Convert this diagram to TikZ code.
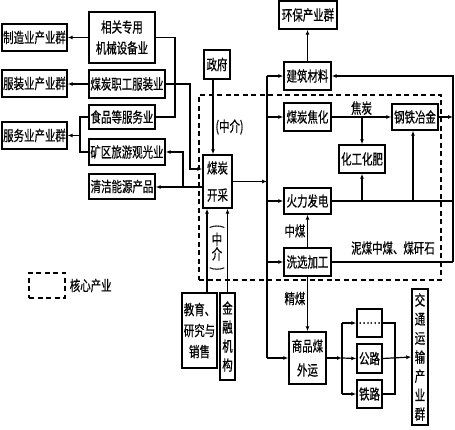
\documentclass[tikz,border=0pt]{standalone}
\usepackage{fontspec}
\usepackage{graphicx}
\setmainfont{Noto Sans CJK SC}[FakeStretch=0.72,FakeBold=0.6]
\usetikzlibrary{arrows.meta,calc}
\begin{document}
\begin{tikzpicture}[x=1pt,y=-1pt,
  font=\fontsize{14.5}{20}\selectfont,
  box/.style={draw, line width=1.4pt, inner sep=0pt, align=center},
  ar/.style={-{Latex[length=5pt,width=4pt]}},
  every path/.style={line width=1.2pt},
  core/.style={draw, dash pattern=on 5pt off 3.5pt, line width=1.4pt, inner sep=0pt},
  lbl/.style={inner sep=1.5pt}
]
\useasboundingbox (0,0) rectangle (455,430);

% dashed core area
\node[core, minimum width=242pt, minimum height=185pt] (core) at (320,187.5) {};
\node[core, minimum width=36pt, minimum height=25pt] (legend) at (47,285.5) {};
\node[lbl, anchor=west] (legendtxt) at ([xshift=2pt]legend.east) {核心产业};

% left column
\node[box, minimum width=65pt, minimum height=27pt] (mfg) at (34.5,37.5) {制造业产业群};
\node[box, minimum width=66pt, minimum height=51pt, font=\fontsize{14.5}{21}\selectfont] (mech) at (122,37.5) {相关专用\\机械设备业};
\node[box, minimum width=65pt, minimum height=27pt] (cloth) at (34.5,83.5) {服装业产业群};
\node[box, minimum width=76pt, minimum height=28pt] (uniform) at (127,84) {煤炭职工服装业};
\node[box, minimum width=66pt, minimum height=24pt] (food) at (122,117) {食品等服务业};
\node[box, minimum width=65pt, minimum height=27pt] (svc) at (34.5,135.5) {服务业产业群};
\node[box, minimum width=76pt, minimum height=26pt] (tour) at (127,152) {矿区旅游观光业};
\node[box, minimum width=66pt, minimum height=25pt] (clean) at (122,186.5) {清洁能源产品};

% centre
\node[box, minimum width=26pt, minimum height=29pt] (gov) at (217,64.5) {政府};
\node[box, minimum width=29pt, minimum height=53pt, font=\fontsize{14.5}{27}\selectfont] (mine) at (217.5,181.5) {煤炭\\开采};
\node[box, minimum width=35pt, minimum height=75pt, font=\fontsize{14.5}{21}\selectfont] (edu) at (199.5,330.5) {教育、\\研究与\\销售};
\node[box, minimum width=15pt, minimum height=87pt, font=\fontsize{14.5}{19}\selectfont] (fin) at (227.5,336.5) {金\\融\\机\\构};

% right part
\node[box, minimum width=58pt, minimum height=28pt] (env) at (308,15) {环保产业群};
\node[box, minimum width=47pt, minimum height=28pt] (build) at (307.5,76) {建筑材料};
\node[box, minimum width=47pt, minimum height=28pt] (coke) at (307.5,117) {煤炭焦化};
\node[box, minimum width=46pt, minimum height=28pt] (chem) at (362,159) {化工化肥};
\node[box, minimum width=46pt, minimum height=26pt] (steel) at (415,117) {钢铁冶金};
\node[box, minimum width=47pt, minimum height=26pt] (power) at (307.5,201) {火力发电};
\node[box, minimum width=47pt, minimum height=28pt] (wash) at (307.5,262) {洗选加工};
\node[box, minimum width=37pt, minimum height=52pt, font=\fontsize{14.5}{24}\selectfont] (coal) at (307.5,358) {商品煤\\外运};
\node[box, minimum width=25pt, minimum height=28pt] (dots) at (369.5,323) {……};
\node[box, minimum width=25pt, minimum height=29pt] (road) at (369.5,358.5) {公路};
\node[box, minimum width=25pt, minimum height=28pt] (rail) at (369.5,394) {铁路};
\node[box, minimum width=16pt, minimum height=136pt, font=\fontsize{14.5}{19}\selectfont] (trans) at (420,357) {交\\通\\运\\输\\产\\业\\群};

% junction coordinates
\coordinate (j1) at (175,117);
\coordinate (j2) at (190,169);
\coordinate (j3) at (80,135.5);
\coordinate (j4) at (183,187);
\coordinate (busT) at (267,76);
\coordinate (busB) at (267,358);
\coordinate (rt) at (453,76);
\coordinate (rb) at (453,262);
\coordinate (k1) at (342,358);
\coordinate (k2) at (395,358);
\path ([xshift=-4pt]gov.south) coordinate (g1);
\path ([xshift=7.5pt]edu.north) coordinate (e1);

% left connectors
\draw[ar] (mech.west) -- (mfg.east);
\draw (mech.east) -| (j1) -- (food.east);
\draw[ar] (uniform.west) -- (uniform.west -| cloth.east);
\draw[ar] (uniform.east) -| (j2) -- (j2 -| mine.west);
\draw (food.west) -| (j3 |- tour.west) -- (tour.west);
\draw[ar] (j3) -- (j3 -| svc.east);
\draw[ar] (j4 -| mine.west) -- (j4 -| clean.east);
\draw[ar] (j4) |- (tour.east);

% government and supporting
\draw[ar] (g1) -- (g1 |- mine.north);
\node[lbl] (mid1) at (229.5,127) {(中介)};
\draw[ar] (e1) -- (e1 |- mine.south);
\draw[ar] (fin.north) -- (fin.north |- mine.south);
\node[inner sep=0pt, align=center, font=\fontsize{14.5}{13}\selectfont] (mid2) at (217,249) {\rotatebox[origin=c]{-90}{(}\\[1pt]中\\介\\[1pt]\rotatebox[origin=c]{-90}{)}};

% bus
\draw[ar] (mine.east) -- (mine.east -| busT);
\draw (busT) -- (busB);
\draw[ar] (busT) -- (build.west);
\draw[ar] (coke.west -| busT) -- (coke.west);
\draw[ar] (power.west -| busT) -- (power.west);
\draw[ar] (wash.west -| busT) -- (wash.west);
\draw[ar] (busB) -- (coal.west);

% upper right
\draw[ar] (build.north) -- (build.north |- env.south);
\draw[ar] (coke.east) -- (steel.west) node[lbl, midway, above] (cokelbl) {焦炭};
\draw[ar] (chem.north |- coke.east) -- (chem.north);
\draw (power.east) -- (power.east -| rt);
\draw[ar] (chem.south |- power.east) -- (chem.south);
\draw[ar] ([xshift=-2pt]steel.south |- power.east) -- ([xshift=-2pt]steel.south);
\draw[ar] (steel.east) -- (steel.east -| rt);
\draw (wash.east) -- (rb);
\node[lbl] (waste) at (393,248) {泥煤中煤、煤矸石};
\draw[ar] (rb) -- (rt) -- (build.east);

% washing
\draw[ar] (wash.north) -- (power.south) node[lbl, midway, left] (midcoal) {中煤};
\draw[ar] (wash.south) -- (coal.north) node[lbl, pos=0.4, left] (fine) {精煤};

% transport
\draw[ar] (coal.east) -- (k1);
\draw (k1 |- dots.west) -- (k1 |- rail.west);
\draw[ar] (k1 |- dots.west) -- (dots.west);
\draw[ar] (k1) -- (road.west);
\draw[ar] (k1 |- rail.west) -- (rail.west);
\draw (dots.east) -| (k2 |- rail.east) -- (rail.east);
\draw[ar] (road.east) -- (trans.west);
\end{tikzpicture}
\end{document}
